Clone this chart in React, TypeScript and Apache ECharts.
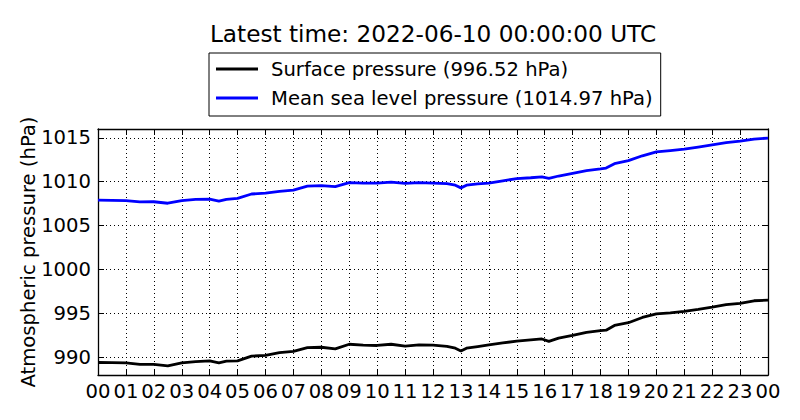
import React, { useEffect, useRef } from "react";
import * as echarts from "echarts";

const hours = [0, 0.5, 1, 1.5, 2, 2.5, 3, 3.5, 4, 4.33, 4.6, 5, 5.5, 6, 6.5, 7, 7.5, 8, 8.5, 9, 9.5, 10, 10.5, 11, 11.5, 12, 12.5, 12.8, 13, 13.2, 13.6, 14, 14.5, 15, 15.5, 15.9, 16.15, 16.5, 17, 17.5, 18, 18.2, 18.5, 19, 19.5, 20, 20.5, 21, 21.5, 22, 22.5, 23, 23.5, 24];

const meanSeaLevelPressure = [1007.9, 1007.88, 1007.85, 1007.7, 1007.72, 1007.55, 1007.85, 1008.0, 1008.02, 1007.8, 1008.0, 1008.1, 1008.6, 1008.7, 1008.9, 1009.05, 1009.5, 1009.55, 1009.45, 1009.9, 1009.85, 1009.85, 1009.95, 1009.8, 1009.9, 1009.85, 1009.78, 1009.6, 1009.3, 1009.6, 1009.75, 1009.85, 1010.1, 1010.35, 1010.45, 1010.55, 1010.38, 1010.65, 1010.95, 1011.25, 1011.45, 1011.55, 1012.05, 1012.4, 1012.95, 1013.4, 1013.55, 1013.7, 1013.95, 1014.2, 1014.45, 1014.62, 1014.85, 1014.97];

const surfacePressure = [989.42, 989.4, 989.38, 989.2, 989.22, 989.03, 989.38, 989.53, 989.6, 989.38, 989.57, 989.6, 990.15, 990.23, 990.54, 990.7, 991.12, 991.16, 990.97, 991.5, 991.4, 991.36, 991.5, 991.28, 991.43, 991.4, 991.27, 991.05, 990.74, 991.05, 991.24, 991.43, 991.65, 991.85, 992.0, 992.1, 991.83, 992.2, 992.5, 992.85, 993.05, 993.1, 993.64, 993.95, 994.55, 994.95, 995.08, 995.25, 995.47, 995.73, 996.0, 996.16, 996.45, 996.52];

const xTickLabels = ["00", "01", "02", "03", "04", "05", "06", "07", "08", "09", "10", "11", "12", "13", "14", "15", "16", "17", "18", "19", "20", "21", "22", "23", "00"];
const yTicks = [990, 995, 1000, 1005, 1010, 1015];

const titleText = "Latest time: 2022-06-10 00:00:00 UTC";
const yAxisName = "Atmospheric pressure (hPa)";

const FONT = "DejaVu Sans";
const FS = 19.6;

export default function App() {
  const ref = useRef<HTMLDivElement>(null);
  useEffect(() => {
    if (!ref.current) return;
    const chart = echarts.init(ref.current, undefined, { renderer: "svg" });
    const surfName = `Surface pressure (${surfacePressure[surfacePressure.length - 1].toFixed(2)} hPa)`;
    const mslName = `Mean sea level pressure (${meanSeaLevelPressure[meanSeaLevelPressure.length - 1].toFixed(2)} hPa)`;
    const gridLine = { show: true, lineStyle: { color: "#000", width: 1, type: [1, 3] as any } };
    const axisLine = { show: true, onZero: false, lineStyle: { color: "#000", width: 1.3 } };
    const tick = { show: true, inside: true, length: 6, lineStyle: { color: "#000", width: 1 } };
    chart.setOption({
      animation: false,
      backgroundColor: "#fff",
      title: {
        text: titleText,
        left: 433,
        top: 22,
        textAlign: "center",
        padding: 0,
        textStyle: { fontFamily: FONT, fontSize: 23.2, fontWeight: "normal", color: "#000" },
      },
      legend: {
        orient: "vertical",
        left: 209,
        top: 53,
        padding: [6, 8, 8, 7],
        itemGap: 9,
        itemWidth: 42,
        itemHeight: 3,
        icon: "rect",
        borderColor: "#000",
        borderWidth: 1,
        backgroundColor: "#fff",
        borderRadius: 0,
        data: [surfName, mslName],
        textStyle: { fontFamily: FONT, fontSize: FS, color: "#000", lineHeight: 20, padding: [0, 0, 0, 8] },
      },
      grid: { left: 98, right: 32, top: 129, bottom: 45, containLabel: false },
      xAxis: [
        {
          type: "value",
          min: 0,
          max: 24,
          interval: 1,
          position: "bottom",
          axisLine,
          axisTick: tick,
          splitLine: gridLine,
          axisLabel: {
            margin: 6,
            fontFamily: FONT,
            fontSize: FS,
            color: "#000",
            formatter: (v: number) => xTickLabels[Math.round(v)] ?? "",
          },
        },
        {
          type: "value",
          min: 0,
          max: 24,
          interval: 1,
          position: "top",
          axisLine,
          axisTick: tick,
          splitLine: { show: false },
          axisLabel: { show: false },
        },
      ],
      yAxis: [
        {
          type: "value",
          min: 988,
          max: 1016,
          position: "left",
          name: yAxisName,
          nameLocation: "middle",
          nameGap: 60,
          nameMoveOverlap: false,
          nameTextStyle: { fontFamily: FONT, fontSize: FS, color: "#000" },
          axisLine,
          axisTick: { ...tick, customValues: yTicks },
          splitLine: gridLine,
          axisLabel: {
            margin: 7,
            fontFamily: FONT,
            fontSize: FS,
            color: "#000",
            customValues: yTicks,
            formatter: (v: number) => String(v),
          },
        },
        {
          type: "value",
          min: 988,
          max: 1016,
          position: "right",
          axisLine,
          axisTick: { ...tick, customValues: yTicks },
          splitLine: { show: false },
          axisLabel: { show: false },
        },
      ],
      series: [
        {
          name: surfName,
          type: "line",
          xAxisIndex: 0,
          yAxisIndex: 0,
          showSymbol: false,
          data: hours.map((h, i) => [h, surfacePressure[i]]),
          lineStyle: { color: "#000", width: 2.8 },
          itemStyle: { color: "#000" },
        },
        {
          name: mslName,
          type: "line",
          xAxisIndex: 0,
          yAxisIndex: 0,
          showSymbol: false,
          data: hours.map((h, i) => [h, meanSeaLevelPressure[i]]),
          lineStyle: { color: "#0000ff", width: 2.8 },
          itemStyle: { color: "#0000ff" },
        },
      ],
    });
    return () => chart.dispose();
  }, []);
  return <div ref={ref} style={{ position: "absolute", left: 0, top: 0, width: 800, height: 420 }} />;
}
